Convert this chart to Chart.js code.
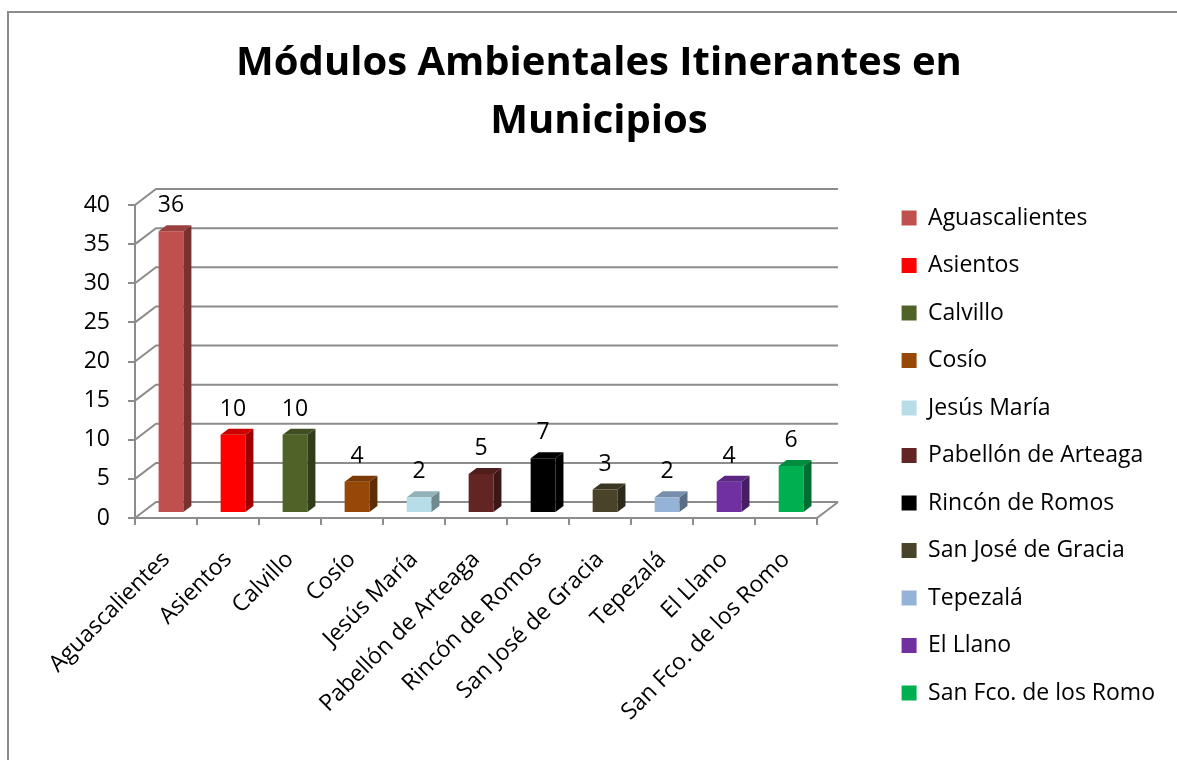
<!DOCTYPE html>
<html>
<head>
<meta charset="utf-8">
<title>Módulos Ambientales Itinerantes en Municipios</title>
<script src="https://cdn.jsdelivr.net/npm/chart.js@4.4.1/dist/chart.umd.min.js"></script>
<style>
  html, body { margin: 0; padding: 0; background: #fff; }
  #wrap { position: relative; width: 1177px; height: 760px; }
</style>
</head>
<body>
<div id="wrap"><canvas id="myChart"></canvas></div>
<script>
// Data
const municipios = [
  "Aguascalientes", "Asientos", "Calvillo", "Cosío", "Jesús María",
  "Pabellón de Arteaga", "Rincón de Romos", "San José de Gracia",
  "Tepezalá", "El Llano", "San Fco. de los Romo"
];
const modulos = [36, 10, 10, 4, 2, 5, 7, 3, 2, 4, 6];
const colores = [
  "#C0504D", "#FF0000", "#4F6228", "#974806", "#B7DEE8",
  "#632523", "#000000", "#494429", "#95B3D7", "#7030A0", "#00B050"
];
const titulo = ["Módulos Ambientales Itinerantes en", "Municipios"];
const yMin = 0;
const yMax = 40;
const yStep = 5;

// 3d look
const WALL_DX = 21, WALL_DY = -16;   // back wall offset
const BAR_DX = 5, BAR_DY = -5;       // bars sit a little into the floor
const SIDE_DX = 8, SIDE_DY = -6;     // bar depth
const lineColor = "#8c8c8c";
const FONT = "'Open Sans', Lato, sans-serif";

Chart.defaults.font.family = FONT;
Chart.defaults.color = "#000";

// darken a hex colour
function shade(hex, f) {
  const n = parseInt(hex.slice(1), 16);
  const r = Math.round(((n >> 16) & 255) * f);
  const g = Math.round(((n >> 8) & 255) * f);
  const b = Math.round((n & 255) * f);
  return `rgb(${r},${g},${b})`;
}

// outer frame of the picture
const frame = {
  id: "frame",
  beforeDraw(chart) {
    const ctx = chart.ctx;
    ctx.save();
    ctx.strokeStyle = lineColor;
    ctx.lineWidth = 2;
    ctx.beginPath();
    ctx.moveTo(8, chart.height + 5);
    ctx.lineTo(8, 12);
    ctx.lineTo(chart.width + 5, 12);
    ctx.stroke();
    ctx.restore();
  }
};

// walls, floor and bar depth
const depth3d = {
  id: "depth3d",
  beforeDatasetsDraw(chart) {
    const { ctx, chartArea: a, scales } = chart;
    const y = scales.y;
    ctx.save();
    ctx.strokeStyle = lineColor;
    ctx.lineWidth = 2;
    ctx.beginPath();
    y.ticks.forEach((t) => {
      const py = y.getPixelForValue(t.value);
      ctx.moveTo(a.left, py);
      ctx.lineTo(a.left + WALL_DX, py + WALL_DY);
      ctx.lineTo(a.right + WALL_DX, py + WALL_DY);
    });
    ctx.moveTo(a.right, a.bottom);
    ctx.lineTo(a.right + WALL_DX, a.bottom + WALL_DY);
    ctx.stroke();
    ctx.restore();

    // front faces get drawn by chart.js, pushed back a bit
    ctx.save();
    ctx.translate(BAR_DX, BAR_DY);
  },
  afterDatasetsDraw(chart) {
    const ctx = chart.ctx;
    ctx.restore();
    const meta = chart.getDatasetMeta(0);
    meta.data.forEach((bar, i) => {
      const { x, y, base, width } = bar.getProps(["x", "y", "base", "width"], true);
      const l = x - width / 2 + BAR_DX;
      const r = x + width / 2 + BAR_DX;
      const t = y + BAR_DY;
      const b = base + BAR_DY;

      // side face
      ctx.fillStyle = shade(colores[i], 0.62);
      ctx.beginPath();
      ctx.moveTo(r, t);
      ctx.lineTo(r + SIDE_DX, t + SIDE_DY);
      ctx.lineTo(r + SIDE_DX, b + SIDE_DY);
      ctx.lineTo(r, b);
      ctx.closePath();
      ctx.fill();

      // top face
      ctx.fillStyle = shade(colores[i], 0.8);
      ctx.beginPath();
      ctx.moveTo(l, t);
      ctx.lineTo(l + SIDE_DX, t + SIDE_DY);
      ctx.lineTo(r + SIDE_DX, t + SIDE_DY);
      ctx.lineTo(r, t);
      ctx.closePath();
      ctx.fill();

      // value label
      ctx.fillStyle = "#000";
      ctx.font = "23px " + FONT;
      ctx.textAlign = "center";
      ctx.textBaseline = "alphabetic";
      ctx.fillText(String(modulos[i]), x + BAR_DX, t - 19);
    });
  }
};

const ctx = document.getElementById("myChart");
const myChart = new Chart(ctx, {
  type: "bar",
  data: {
    labels: municipios,
    datasets: [{
      label: "Módulos",
      data: modulos,
      backgroundColor: colores,
      borderWidth: 0,
      categoryPercentage: 1,
      barPercentage: 0.4
    }]
  },
  options: {
    responsive: true,
    maintainAspectRatio: false,
    animation: false,
    layout: { padding: { left: 33, right: 12, top: 0, bottom: 31 } },
    plugins: {
      title: {
        display: true,
        text: titulo,
        color: "#000",
        font: { size: 40, weight: "bold", lineHeight: 1.45 },
        padding: { top: 35, bottom: 54 }
      },
      legend: {
        position: "right",
        align: "end",
        maxWidth: 400,
        labels: {
          boxWidth: 15,
          boxHeight: 15,
          padding: 24.5,
          color: "#000",
          font: { size: 23 },
          generateLabels: () => municipios.map((m, i) => ({
            text: m,
            fillStyle: colores[i],
            strokeStyle: colores[i],
            fontColor: "#000",
            lineWidth: 0,
            hidden: false,
            index: i,
            datasetIndex: 0
          }))
        }
      },
      tooltip: { enabled: false }
    },
    scales: {
      x: {
        grid: { drawOnChartArea: false, tickLength: 7, color: lineColor, lineWidth: 2 },
        border: { color: lineColor, width: 2 },
        ticks: { autoSkip: false, minRotation: 45, maxRotation: 45, padding: 21, font: { size: 23 }, color: "#000" },
        afterFit: (s) => { s.height = 211; }
      },
      y: {
        min: yMin,
        max: yMax,
        grid: { drawOnChartArea: false, tickLength: 7, color: lineColor, lineWidth: 2 },
        border: { color: lineColor, width: 2 },
        ticks: { stepSize: yStep, padding: 18, font: { size: 23 }, color: "#000" },
        afterFit: (s) => { s.width = 102; }
      },
      gap: {
        position: "right",
        display: true,
        grid: { display: false, drawTicks: false },
        border: { display: false },
        ticks: { display: false },
        afterFit: (s) => { s.width = 60; }
      }
    }
  },
  plugins: [frame, depth3d]
});
</script>
</body>
</html>
